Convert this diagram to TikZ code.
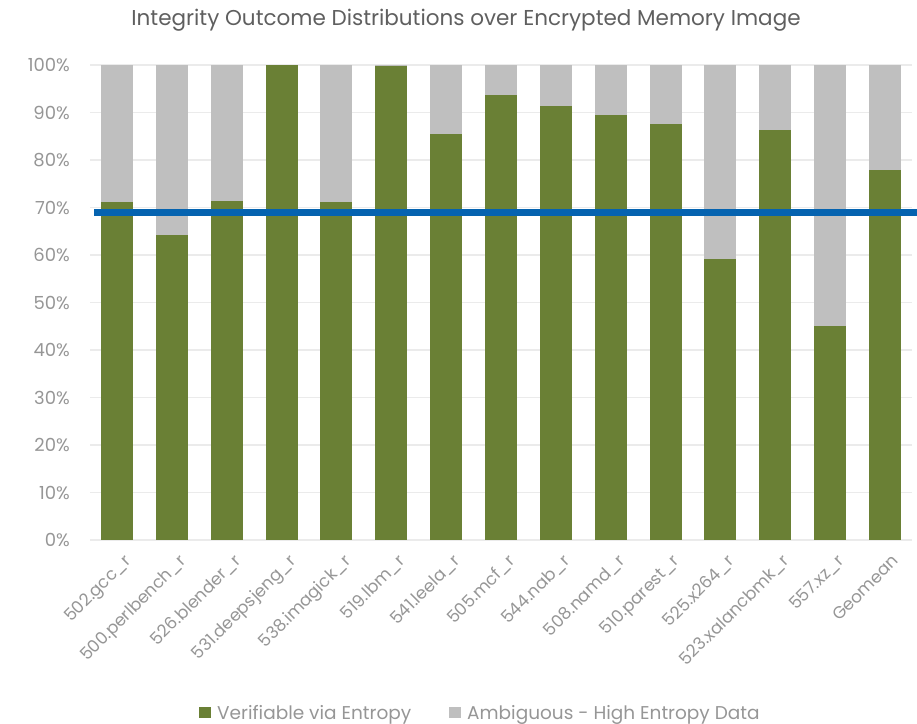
\documentclass[tikz,border=0pt]{standalone}
\usepackage{fontspec}
\setmainfont{Poppins}
\definecolor{barGreen}{RGB}{106,128,53}
\definecolor{barGray}{RGB}{191,191,191}
\definecolor{lineBlue}{RGB}{5,99,176}
\definecolor{gridGray}{RGB}{235,235,235}
\definecolor{textGray}{RGB}{150,150,150}
\definecolor{titleGray}{RGB}{95,95,95}
\begin{document}
\begin{tikzpicture}[x=1pt,y=-1pt,
    ticklabel/.style={font=\fontsize{18}{18}\selectfont, text=textGray, anchor=east, inner sep=0pt},
    benchlabel/.style={font=\fontsize{17}{17}\selectfont, text=textGray, rotate=45, anchor=north east, inner sep=0pt},
    legendtext/.style={font=\fontsize{18.5}{18.5}\selectfont, text=textGray, anchor=base west, inner sep=0pt}]
    \useasboundingbox (0,0) rectangle (917,723);
    % title
    \node[font=\fontsize{21.5}{21.5}\selectfont, text=titleGray] (title) at (466,20) {Integrity Outcome Distributions over Encrypted Memory Image};
    % grid and y labels
    \foreach \p in {0,10,...,100} {
        \draw[gridGray, line width=1.2pt] (90,540-4.75*\p) -- (912,540-4.75*\p);
        \node[ticklabel] (tick\p) at (70,540-4.75*\p) {\p\%};
    }
    % stacked bars
    \foreach \val/\bench [count=\i] in {71.2/502.gcc\_r, 64.2/500.perlbench\_r, 71.4/526.blender\_r,
        100/531.deepsjeng\_r, 71.2/538.imagick\_r, 99.8/519.lbm\_r, 85.5/541.leela\_r, 93.7/505.mcf\_r,
        91.3/544.nab\_r, 89.5/508.namd\_r, 87.6/510.parest\_r, 59.1/525.x264\_r, 86.3/523.xalancbmk\_r,
        45.1/557.xz\_r, 78.0/Geomean} {
        \pgfmathsetmacro\cx{117+(\i-1)*54.86}
        \fill[barGray] (\cx-16,65) rectangle (\cx+16,540);
        \fill[barGreen] (\cx-16,540-4.75*\val) rectangle (\cx+16,540);
        \node[benchlabel] (bench\i) at (\cx+6,553) {\bench};
    }
    % threshold
    \coordinate (thrWest) at (94,212);
    \coordinate (thrEast) at (917,212);
    \draw[lineBlue, line width=7pt] (thrWest) -- (thrEast);
    % legend
    \fill[barGreen] (199,707) rectangle (211,718);
    \node[legendtext] (legGreen) at (217,719) {Verifiable via Entropy};
    \fill[barGray] (449,707) rectangle (461,718);
    \node[legendtext] (legGray) at (467,719) {Ambiguous - High Entropy Data};
\end{tikzpicture}
\end{document}
